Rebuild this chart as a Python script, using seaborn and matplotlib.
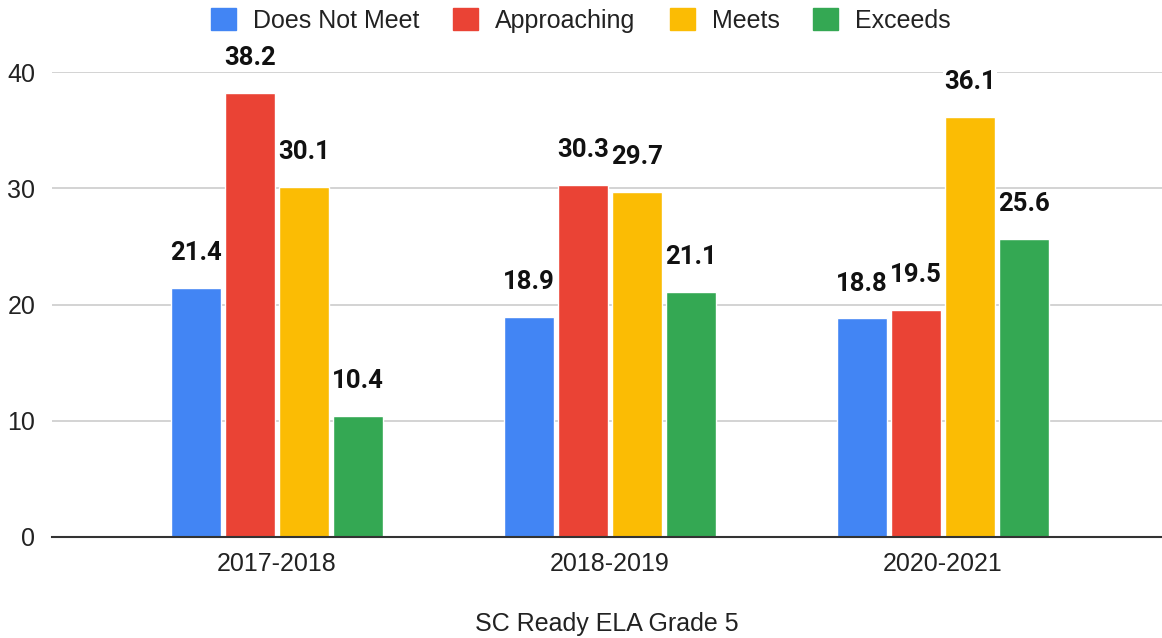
import pandas as pd
import matplotlib.pyplot as plt
import seaborn as sns

# Chart data
years = ['2017-2018', '2018-2019', '2020-2021']
levels = ['Does Not Meet', 'Approaching', 'Meets', 'Exceeds']
does_not_meet = [21.4, 18.9, 18.8]
approaching = [38.2, 30.3, 19.5]
meets = [30.1, 29.7, 36.1]
exceeds = [10.4, 21.1, 25.6]
colors = ['#4285F4', '#EA4335', '#FBBC04', '#34A853']

rows = []
for lvl, vals in zip(levels, [does_not_meet, approaching, meets, exceeds]):
    for yr, v in zip(years, vals):
        rows.append({'Year': yr, 'Level': lvl, 'Value': v})
df = pd.DataFrame(rows)

sns.set_style("white")
plt.rcParams['font.family'] = ['Liberation Sans', 'DejaVu Sans']

fig = plt.figure(figsize=(11.62, 6.38), dpi=100)
ax = fig.add_axes([52 / 1162, 1 - 537 / 638, 1 - 52 / 1162, (537 - 72) / 638])

sns.barplot(data=df, x='Year', y='Value', hue='Level', hue_order=levels,
            palette=colors, width=0.65, gap=0.08, saturation=1, ax=ax,
            legend=True, errorbar=None)

# value labels above bars
for cont in ax.containers:
    ax.bar_label(cont, fmt='%.1f', padding=16.5, fontsize=18.5, fontweight='bold',
                 family='Roboto', color='#111111', clip_on=False,
                 bbox=dict(facecolor='white', edgecolor='none', pad=1))

ax.set_xlim(-0.676, 2.658)
ax.set_ylim(0, 40)
ax.set_yticks([0, 10, 20, 30, 40])
ax.yaxis.grid(True, color='#cccccc', linewidth=1.2)
ax.set_axisbelow(True)
for s in ['top', 'right', 'left']:
    ax.spines[s].set_visible(False)
ax.spines['bottom'].set_color('#333333')
ax.spines['bottom'].set_linewidth(1.5)
ax.tick_params(axis='both', length=0, labelsize=18, labelcolor='#222222')
ax.tick_params(axis='x', pad=11)
ax.tick_params(axis='y', pad=12)
ax.set_ylabel('')
ax.set_xlabel('SC Ready ELA Grade 5', fontsize=18, color='#222222', labelpad=26)

ax.legend_.remove()
handles = [plt.Rectangle((0, 0), 1, 1, color=c) for c in colors]
fig.legend(handles, levels, loc='center', bbox_to_anchor=(0.5, 0.968), ncol=4,
           frameon=False, fontsize=18, handlelength=1.0, handleheight=1.0,
           handletextpad=0.68, columnspacing=1.36, labelcolor='#222222')

plt.savefig('out.png', dpi=100)
